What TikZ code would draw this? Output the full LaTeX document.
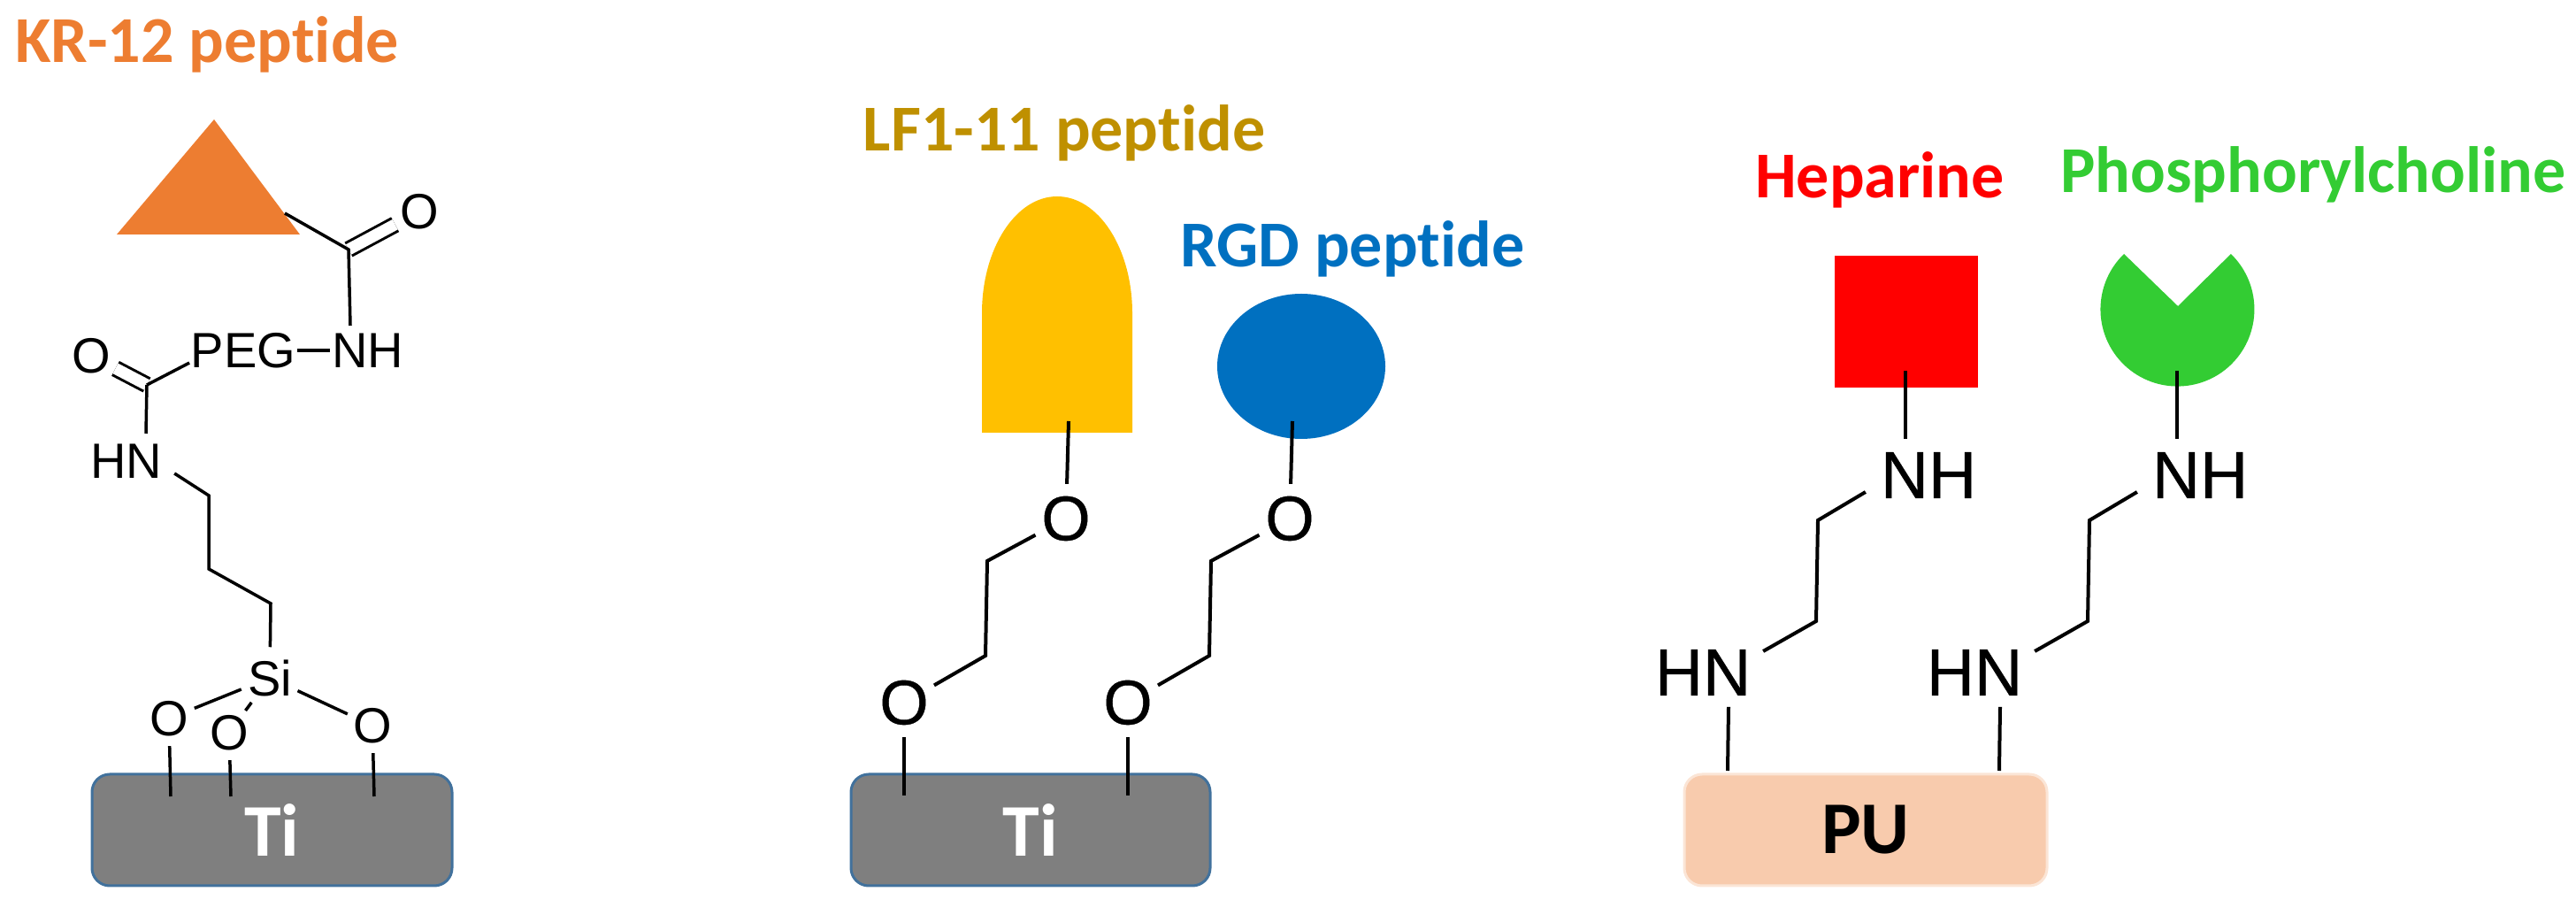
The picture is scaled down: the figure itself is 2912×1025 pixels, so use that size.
\documentclass[tikz,border=0pt]{standalone}
\usepackage{fontspec}
\setmainfont{Liberation Sans}
\newfontfamily\calfont[Ligatures=NoCommon]{Carlito}
\newfontfamily\atomfont[FakeBold=0.6]{Liberation Sans}
\definecolor{krorange}{HTML}{ED7D31}
\definecolor{lfgold}{HTML}{BF9000}
\definecolor{lfyellow}{HTML}{FFC000}
\definecolor{rgdblue}{HTML}{0070C0}
\definecolor{pcgreen}{HTML}{33CC33}
\definecolor{tigrey}{HTML}{7F7F7F}
\definecolor{tiedge}{HTML}{41719C}
\definecolor{pufill}{HTML}{F8CBAD}
\definecolor{puedge}{HTML}{FBE5D6}
\tikzset{
  tag/.style={anchor=base,inner sep=0pt,font=\fontsize{74}{74}\selectfont\calfont\bfseries},
  small/.style={inner sep=0pt,font=\fontsize{56}{56}\selectfont},
  smallO/.style={small,circle,minimum size=58pt},
  big/.style={inner sep=0pt,font=\fontsize{75}{75}\selectfont\atomfont},
  bigO/.style={inner sep=0pt,circle,minimum size=74pt,font=\fontsize{71}{71}\selectfont\atomfont},
  plate/.style={rounded corners=20pt,minimum height=126pt,line width=3pt,font=\fontsize{84}{84}\selectfont\calfont\bfseries},
  tiplate/.style={plate,fill=tigrey,draw=tiedge,text=white},
  puplate/.style={plate,fill=pufill,draw=puedge,text=black}
}
\begin{document}
\begin{tikzpicture}[x=1pt,y=1pt,line width=3.5pt]
\path[use as bounding box] (0,0) rectangle (2912,1025);
\fill[krorange] (242,890)--(132,760)--(339,760)--cycle;
\fill[lfyellow] (1110,536)--(1110,671) arc[start angle=180,end angle=0,x radius=85,y radius=132]--(1280,536)--cycle;
\fill[rgdblue] (1471,611) ellipse [x radius=95,y radius=82];
\fill[red] (2074,587) rectangle (2236,736);
\fill[pcgreen] (2462,679)--(2401,738) arc[start angle=134,end angle=406,radius=87]--cycle;
\node[tag,text=krorange] (krlabel) at (234,954) {KR-12 peptide};
\node[tag,text=lfgold] (lflabel) at (1203,854) {LF1-11 peptide};
\node[tag,text=rgdblue] (rgdlabel) at (1529,723) {RGD peptide};
\node[tag,text=red] (heplabel) at (2125,801) {Heparine};
\node[tag,text=pcgreen] (pclabel) at (2615,807) {Phosphorylcholine};
\node[tiplate,minimum width=407pt] (tiA) at (307.5,87) {Ti};
\node[tiplate,minimum width=406pt] (tiB) at (1165,87) {Ti};
\node[puplate,minimum width=410pt] (pu) at (2109,87) {PU};
\node[smallO] (oK) at (474,786) {O};
\node[small] (nhA) at (415.5,629) {NH};
\node[small] (peg) at (275,629) {PEG};
\node[smallO] (oL) at (103,623) {O};
\node[small] (hnA) at (143,504) {HN};
\node[small,circle,minimum size=66pt] (si) at (305,259) {Si};
\node[smallO] (oM) at (191,213) {O};
\node[smallO] (oN) at (259,197) {O};
\node[smallO] (oP) at (421,205) {O};
\coordinate (triC) at (322,784);
\coordinate (cA) at (394,743);
\coordinate (cB) at (166,590);
\coordinate (bendA) at (236,465);
\coordinate (bendB) at (236,382);
\coordinate (bendC) at (306,343);
\draw[double,double distance=13pt,line width=3pt] (cA)--(oK);
\draw[double,double distance=13pt,line width=3pt] (cB)--(oL);
\draw (triC)--(cA)--([shift={(-19.5,7)}]nhA.north);
\draw (peg.east)--(nhA.west);
\draw (cB)--(peg.193);
\draw (cB)--([shift={(22,10)}]hnA.north);
\draw ([shift={(12,-14)}]hnA.east)--(bendA)--(bendB)--(bendC)--(si);
\draw (si)--(oM);
\draw (si)--(oN);
\draw (si)--(oP);
\coordinate (padM) at (193,125);
\coordinate (padN) at (261,125);
\coordinate (padP) at (423,125);
\draw (oM)--(padM);
\draw (oN)--(padN);
\draw (oP)--(padP);
\foreach \n/\dx in {F/0,H/253}{
  \begin{scope}[xshift=\dx pt,line width=4pt]
  \node[bigO] (oup\n) at (1205,439) {O};
  \node[bigO] (olo\n) at (1022,231) {O};
  \coordinate (top\n) at (1208,549);
  \coordinate (bendu\n) at (1116,391);
  \coordinate (bendl\n) at (1114,284);
  \coordinate (pad\n) at (1022,126);
  \draw (top\n)--(oup\n);
  \draw (oup\n)--(bendu\n)--(bendl\n)--(olo\n);
  \draw (olo\n)--(pad\n);
  \end{scope}
}
\foreach \n/\dx in {Q/0,R/307}{
  \begin{scope}[xshift=\dx pt,line width=4pt]
  \node[big] (nh\n) at (2180,488) {NH};
  \node[big] (hn\n) at (1925,265) {HN};
  \coordinate (top\n) at (2154,606);
  \coordinate (bendu\n) at (2055,437);
  \coordinate (bendl\n) at (2053,323);
  \coordinate (pad\n) at (1953,154);
  \draw (top\n)--([shift={(-26,13)}]nh\n.north);
  \draw ([shift={(-15,-19)}]nh\n.west)--(bendu\n)--(bendl\n)--([shift={(12,24)}]hn\n.east);
  \draw ([shift={(29,-11)}]hn\n.south)--(pad\n);
  \end{scope}
}
\end{tikzpicture}
\end{document}
